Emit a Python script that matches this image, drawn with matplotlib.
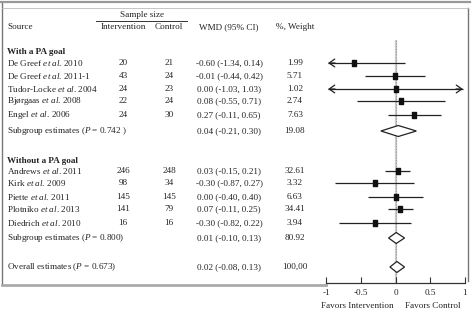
import matplotlib
matplotlib.use("Agg")
import matplotlib.pyplot as plt
from matplotlib.path import Path

plt.rcParams['font.family'] = ['Liberation Serif', 'DejaVu Serif']
plt.rcParams['mathtext.fontset'] = 'custom'
plt.rcParams['mathtext.rm'] = 'Liberation Serif'
plt.rcParams['mathtext.it'] = 'Liberation Serif:italic'

# ---------------- data ----------------
g1_names = ["De Greef $\\mathit{et\\ al}$. 2010", "De Greef $\\mathit{et\\ al}$. 2011-1",
            "Tudor-Locke $\\mathit{et\\ al}$. 2004", "Bjørgaas $\\mathit{et\\ al}$. 2008",
            "Engel $\\mathit{et\\ al}$. 2006"]
g1_int = [20, 43, 24, 22, 24]
g1_ctl = [21, 24, 23, 24, 30]
g1_est = [-0.60, -0.01, 0.00, 0.08, 0.27]
g1_lo = [-1.34, -0.44, -1.03, -0.55, -0.11]
g1_hi = [0.14, 0.42, 1.03, 0.71, 0.65]
g1_w = ["1.99", "5.71", "1.02", "2.74", "7.63"]

g2_names = ["Andrews $\\mathit{et\\ al}$. 2011", "Kirk $\\mathit{et\\ al}$. 2009",
            "Piette $\\mathit{et\\ al}$. 2011", "Plotniko $\\mathit{et\\ al}$. 2013",
            "Diedrich $\\mathit{et\\ al}$. 2010"]
g2_int = [246, 98, 145, 141, 16]
g2_ctl = [248, 34, 145, 79, 16]
g2_est = [0.03, -0.30, 0.00, 0.07, -0.30]
g2_lo = [-0.15, -0.87, -0.40, -0.11, -0.82]
g2_hi = [0.21, 0.27, 0.40, 0.25, 0.22]
g2_w = ["32.61", "3.32", "6.63", "34.41", "3.94"]

sum_labels = ["Subgroup estimates ($\\mathit{P}$ = 0.742 )",
              "Subgroup estimates ($\\mathit{P}$ = 0.800)",
              "Overall estimates ($\\mathit{P}$ = 0.673)"]
sum_est = [0.04, 0.01, 0.02]
sum_lo = [-0.21, -0.10, -0.08]
sum_hi = [0.30, 0.13, 0.13]
sum_w = ["19.08", "80.92", "100,00"]

group_titles = ["With a PA goal", "Without a PA goal"]
xticks = [-1, -0.5, 0, 0.5, 1]
xtick_labels = ["-1", "-0.5", "0", "0.5", "1"]

# ---------------- layout (pixel rows) ----------------
W, H = 475, 313
g1_y = [63, 76, 89, 101, 115]
g2_y = [171, 183, 197, 209, 223]
sum_y = [131, 238, 267]
title_y = [52, 161]
x_src, x_int, x_ctl, x_wmd, x_w = 7, 123, 169, 229, 295
TC = '#222222'
FS = 6.6

fig = plt.figure(figsize=(W / 100, H / 100), dpi=100)
bg = fig.add_axes([0, 0, 1, 1])
bg.set_xlim(0, W)
bg.set_ylim(H, 0)
bg.axis('off')

ax = fig.add_axes([326 / W, (H - 283) / H, 139 / W, (283 - 40) / H])
ax.set_xlim(-1, 1)
ax.set_ylim(283, 40)
ax.patch.set_alpha(0)
for s in ['top', 'left', 'right']:
    ax.spines[s].set_visible(False)
ax.spines['bottom'].set_color('#333333')
ax.spines['bottom'].set_linewidth(0.9)
ax.set_yticks([])
ax.set_xticks(xticks)
ax.set_xticklabels(xtick_labels, fontsize=FS, color=TC)
ax.tick_params(axis='x', direction='in', length=4, width=0.8, color='#333333', pad=4)

# frame
fc = '#999999'
bg.plot([2, 2], [3, 285], color='#777777', lw=1.0)
bg.plot([1, 470], [2, 2], color=fc, lw=1.6)
bg.plot([2, 326], [285, 285], color='#aaaaaa', lw=2.0)
bg.plot([468, 468], [8, 281], color='#777777', lw=1.0)
bg.plot([2, 468], [8, 8], color='#bbbbbb', lw=0.6)

# headers
bg.text(142, 15, "Sample size", fontsize=FS, color=TC, ha='center', va='center')
bg.plot([96, 187], [21, 21], color='#333333', lw=0.7)
bg.text(x_src, 27, "Source", fontsize=FS, color=TC, ha='left', va='center')
bg.text(x_int, 27, "Intervention", fontsize=FS, color=TC, ha='center', va='center')
bg.text(x_ctl, 27, "Control", fontsize=FS, color=TC, ha='center', va='center')
bg.text(x_wmd, 27, "WMD (95% CI)", fontsize=FS, color=TC, ha='center', va='center')
bg.text(x_w, 27, "%, Weight", fontsize=FS, color=TC, ha='center', va='center')
for t, y in zip(group_titles, title_y):
    bg.text(x_src, y, t, fontsize=FS, color=TC, ha='left', va='center', fontweight='bold')

# reference line at zero
ax.axvline(0, color='#cccccc', lw=1.6, zorder=1)
ax.axvline(0, color='#888888', lw=0.5, ls=(0, (2, 2)), zorder=1)

rect = Path([(-0.33, -0.5), (0.33, -0.5), (0.33, 0.5), (-0.33, 0.5), (-0.33, -0.5)],
            [Path.MOVETO, Path.LINETO, Path.LINETO, Path.LINETO, Path.CLOSEPOLY])
LIM = 0.97


def fmt(v):
    return f"{v:.2f}"


def arrow(x0, x1, y):
    ax.annotate("", xy=(x1, y), xytext=(x0, y),
                arrowprops=dict(arrowstyle='->,head_length=0.5,head_width=0.35', lw=0.9,
                                color='#222222', mutation_scale=8, shrinkA=0, shrinkB=0))


def study_rows(names, ni, nc, est, lo, hi, w, ys):
    for i in range(len(names)):
        y = ys[i]
        bg.text(x_src, y, names[i], fontsize=FS, color=TC, ha='left', va='center')
        bg.text(x_int, y, str(ni[i]), fontsize=FS, color=TC, ha='center', va='center')
        bg.text(x_ctl, y, str(nc[i]), fontsize=FS, color=TC, ha='center', va='center')
        bg.text(x_wmd, y, f"{fmt(est[i])} ({fmt(lo[i])}, {fmt(hi[i])})", fontsize=FS,
                color=TC, ha='center', va='center')
        bg.text(x_w, y, w[i], fontsize=FS, color=TC, ha='center', va='center')
        a = max(lo[i], -LIM)
        b = min(hi[i], LIM)
        ax.plot([a, b], [y, y], color='#222222', lw=0.9, zorder=2, solid_capstyle='butt')
        if lo[i] < -1:
            arrow(a + 0.1, a, y)
        if hi[i] > 1:
            arrow(b - 0.1, b, y)
        ax.plot([est[i]], [y], marker=rect, markersize=4.6, color='#111111', zorder=3,
                linestyle='none')


study_rows(g1_names, g1_int, g1_ctl, g1_est, g1_lo, g1_hi, g1_w, g1_y)
study_rows(g2_names, g2_int, g2_ctl, g2_est, g2_lo, g2_hi, g2_w, g2_y)

half = 5.5
for i in range(3):
    y = sum_y[i]
    bg.text(x_src, y, sum_labels[i], fontsize=FS, color=TC, ha='left', va='center')
    bg.text(x_wmd, y, f"{fmt(sum_est[i])} ({fmt(sum_lo[i])}, {fmt(sum_hi[i])})",
            fontsize=FS, color=TC, ha='center', va='center')
    bg.text(x_w, y, sum_w[i], fontsize=FS, color=TC, ha='center', va='center')
    ax.fill([sum_lo[i], sum_est[i], sum_hi[i], sum_est[i], sum_lo[i]],
            [y, y - half, y, y + half, y], facecolor='white', edgecolor='#222222',
            lw=0.9, zorder=3)

bg.text(357, 306, "Favors Intervention", fontsize=FS, color=TC, ha='center', va='center')
bg.text(433, 306, "Favors Control", fontsize=FS, color=TC, ha='center', va='center')

fig.savefig("out.png", dpi=100)
